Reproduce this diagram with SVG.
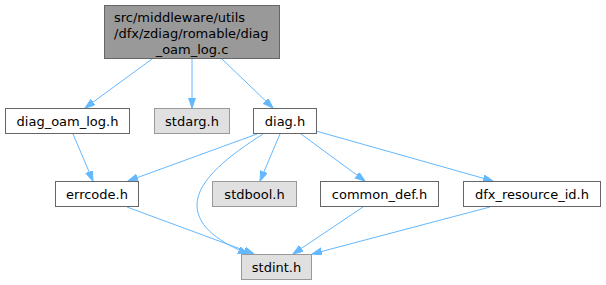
<svg xmlns="http://www.w3.org/2000/svg" width="606" height="285" viewBox="0 0 606 285">
<style>
.n rect{fill:#ffffff;stroke:#666666;stroke-width:1}
.g rect{fill:#e0e0e0;stroke:#999999;stroke-width:1}
.r rect{fill:#999999;stroke:#666666;stroke-width:1}
text{font-family:"DejaVu Sans",sans-serif;font-size:13px;fill:#000000;text-anchor:middle}
text.l{text-anchor:start}
#edges path{fill:none;stroke:#63b8ff;stroke-width:1;marker-end:url(#arr)}
</style>
<defs>
<marker id="arr" markerUnits="userSpaceOnUse" markerWidth="11" markerHeight="8" refX="10" refY="3.5" orient="auto">
<path d="M0,0 L10,3.5 L0,7 z" fill="#63b8ff" stroke="#63b8ff" stroke-width="1"/>
</marker>
</defs>
<rect width="606" height="285" fill="#ffffff"/>
<g id="edges">
<path d="M152,59 L85,108"/>
<path d="M192,59 L192,108"/>
<path d="M222,59 L273,108"/>
<path d="M73,134 L93,181"/>
<path d="M257,134 L128,181"/>
<path d="M263,134 C230,155 197,180 197,205 C197,228 222,243 248,254"/>
<path d="M280,134 L260,181"/>
<path d="M301,134 L365,181"/>
<path d="M316,131 L493,181"/>
<path d="M127,207 L254,254"/>
<path d="M363,207 L293,254"/>
<path d="M490,207 L312,254"/>
</g>
<g id="node_root" class="r">
<rect x="104.5" y="5.5" width="175" height="53"/>
<text class="l" x="114" y="22">src/middleware/utils</text>
<text class="l" x="114" y="38">/dfx/zdiag/romable/diag</text>
<text x="192" y="54">_oam_log.c</text>
</g>
<g id="node_diag_oam_log_h" class="n">
<rect x="5.5" y="108.5" width="124" height="25"/>
<text x="67.5" y="125.5">diag_oam_log.h</text>
</g>
<g id="node_stdarg_h" class="g">
<rect x="154.5" y="108.5" width="75" height="25"/>
<text x="192" y="125.5">stdarg.h</text>
</g>
<g id="node_diag_h" class="n">
<rect x="253.5" y="108.5" width="63" height="25"/>
<text x="285" y="125.5">diag.h</text>
</g>
<g id="node_errcode_h" class="n">
<rect x="55.5" y="181.5" width="83" height="25"/>
<text x="97" y="198.5">errcode.h</text>
</g>
<g id="node_stdbool_h" class="g">
<rect x="212.5" y="181.5" width="84" height="25"/>
<text x="254.5" y="198.5">stdbool.h</text>
</g>
<g id="node_common_def_h" class="n">
<rect x="320.5" y="181.5" width="118" height="25"/>
<text x="379.5" y="198.5">common_def.h</text>
</g>
<g id="node_dfx_resource_id_h" class="n">
<rect x="463.5" y="181.5" width="137" height="25"/>
<text x="532" y="198.5">dfx_resource_id.h</text>
</g>
<g id="node_stdint_h" class="g">
<rect x="241.5" y="254.5" width="70" height="25"/>
<text x="276.5" y="271.5">stdint.h</text>
</g>
</svg>
